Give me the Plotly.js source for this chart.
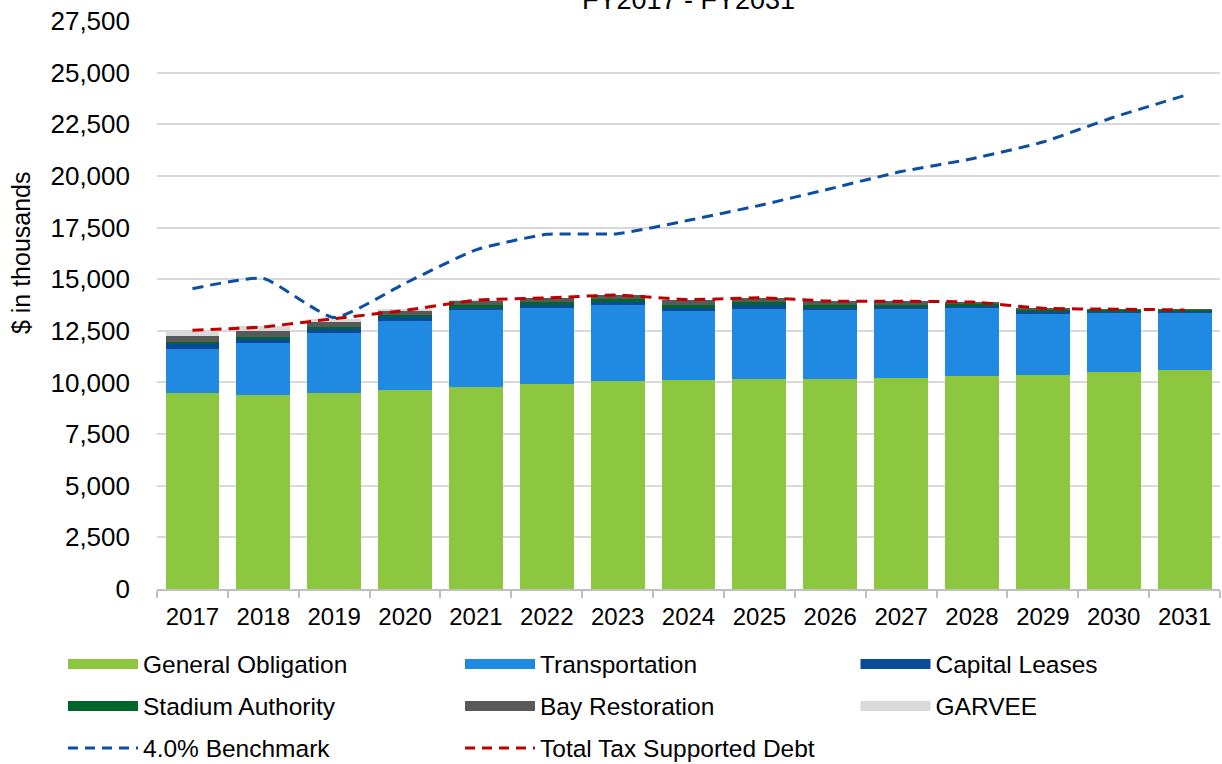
<!DOCTYPE html>
<html>
<head>
<meta charset="utf-8">
<script src="https://cdn.plot.ly/plotly-3.0.1.min.js"></script>
<style>html,body{margin:0;padding:0;background:#fff;}#chart{width:1222px;height:764px;}</style>
</head>
<body>
<div id="chart"></div>
<script>
const years = ['2017','2018','2019','2020','2021','2022','2023','2024','2025','2026','2027','2028','2029','2030','2031'];
const generalObligation = [9490, 9370, 9490, 9620, 9780, 9930, 10060, 10110, 10160, 10160, 10200, 10300, 10380, 10490, 10590];
const transportation    = [2150, 2560, 2905, 3340, 3710, 3660, 3675, 3335, 3415, 3350, 3375, 3305, 2965, 2890, 2820];
const capitalLeases     = [210, 160, 180, 210, 160, 160, 175, 160, 160, 115, 110, 110, 80, 65, 35];
const stadiumAuthority  = [110, 110, 100, 80, 95, 145, 130, 130, 160, 130, 80, 65, 95, 95, 65];
const bayRestoration    = [280, 280, 240, 240, 225, 195, 195, 275, 210, 195, 160, 115, 65, 15, 5];
const garvee            = [280, 230, 145, 50, 20, 0, 0, 0, 0, 0, 0, 0, 0, 0, 0];
const benchmark         = [14540, 15030, 13140, 14800, 16420, 17170, 17200, 17850, 18570, 19380, 20210, 20830, 21640, 22840, 23890];
const totalDebt         = [12525, 12690, 13090, 13490, 13980, 14090, 14230, 14010, 14100, 13940, 13930, 13890, 13590, 13550, 13510];

const FONT = 'Liberation Sans, Arial, sans-serif';
const barSeries = [
  {name: 'General Obligation', y: generalObligation, color: '#8DC63F', legend: 'legend'},
  {name: 'Transportation', y: transportation, color: '#208AE2', legend: 'legend'},
  {name: 'Capital Leases', y: capitalLeases, color: '#0B4A96', legend: 'legend2'},
  {name: 'Stadium Authority', y: stadiumAuthority, color: '#006629', legend: 'legend3'},
  {name: 'Bay Restoration', y: bayRestoration, color: '#595959', legend: 'legend3'},
  {name: 'GARVEE', y: garvee, color: '#D9D9D9', legend: 'legend4'}
];

const traces = [];
barSeries.forEach(s => {
  traces.push({type: 'bar', x: years, y: s.y, name: s.name, marker: {color: s.color}, showlegend: false, hoverinfo: 'x+y+name'});
});
traces.push({type: 'scatter', mode: 'lines', x: years, y: benchmark, name: '4.0% Benchmark', showlegend: false,
  line: {color: '#0B4EA2', width: 3, dash: '11px,7px', shape: 'spline', smoothing: 0.5}});
traces.push({type: 'scatter', mode: 'lines', x: years, y: totalDebt, name: 'Total Tax Supported Debt', showlegend: false,
  line: {color: '#C00000', width: 3, dash: '11px,7px', shape: 'spline', smoothing: 0.5}});

// legend entries (swatches)
barSeries.forEach(s => {
  traces.push({type: 'scatter', mode: 'lines', x: [null], y: [null], name: s.name, legend: s.legend,
    line: {color: s.color, width: 14}, hoverinfo: 'skip'});
});
traces.push({type: 'scatter', mode: 'lines', x: [null], y: [null], name: '4.0% Benchmark', legend: 'legend5',
  line: {color: '#0B4EA2', width: 3, dash: '10px,7px'}, hoverinfo: 'skip'});
traces.push({type: 'scatter', mode: 'lines', x: [null], y: [null], name: 'Total Tax Supported Debt', legend: 'legend5',
  line: {color: '#C00000', width: 3, dash: '10px,7px'}, hoverinfo: 'skip'});

function leg(x, y, ew) {
  return {orientation: 'h', xref: 'container', yref: 'container', x: x, xanchor: 'left', y: y, yanchor: 'middle',
    entrywidth: ew, entrywidthmode: 'pixels', itemwidth: 70, traceorder: 'normal',
    font: {family: FONT, size: 24.5, color: '#000'}, bgcolor: 'rgba(0,0,0,0)'};
}
const COL1 = 63 / 1222, COL3 = 855.5 / 1222;
const ROW1 = 1 - 664 / 764, ROW2 = 1 - 706 / 764, ROW3 = 1 - 748 / 764;

const layout = {
  width: 1222, height: 764,
  margin: {l: 157, r: 2, t: 21, b: 175},
  paper_bgcolor: '#fff', plot_bgcolor: '#fff',
  barmode: 'stack', bargap: 0.24,
  font: {family: FONT, color: '#000'},
  title: {text: 'FY2017 - FY2031', x: 0.5, xref: 'paper', xanchor: 'center', y: 1, yref: 'container', yanchor: 'middle',
    font: {family: FONT, size: 27, color: '#000'}},
  xaxis: {type: 'category', showgrid: false, showline: true, linecolor: '#BFBFBF', linewidth: 1.5,
    ticks: 'outside', tickson: 'boundaries', ticklen: 7, tickcolor: '#BFBFBF', tickwidth: 1.5,
    tickfont: {family: FONT, size: 24, color: '#000'}, ticklabelstandoff: 5, automargin: false},
  yaxis: {range: [0, 27500], tickmode: 'linear', tick0: 0, dtick: 2500, tickformat: ',d',
    showgrid: true, gridcolor: '#D9D9D9', gridwidth: 1.5, zeroline: false, showline: false,
    tickfont: {family: FONT, size: 26, color: '#000'}, ticklabelstandoff: 26, automargin: false},
  annotations: [{text: '$ in thousands', textangle: -90, xref: 'paper', yref: 'paper',
    x: -0.128, y: 0.593, xanchor: 'center', yanchor: 'middle', showarrow: false,
    font: {family: FONT, size: 25, color: '#000'}}],
  legend: leg(COL1, ROW1, 312),
  legend2: leg(COL3, ROW1, 200),
  legend3: leg(COL1, ROW2, 312),
  legend4: leg(COL3, ROW2, 200),
  legend5: leg(COL1, ROW3, 312),
  showlegend: true
};

Plotly.newPlot('chart', traces, layout, {displayModeBar: false, responsive: false});
</script>
</body>
</html>
